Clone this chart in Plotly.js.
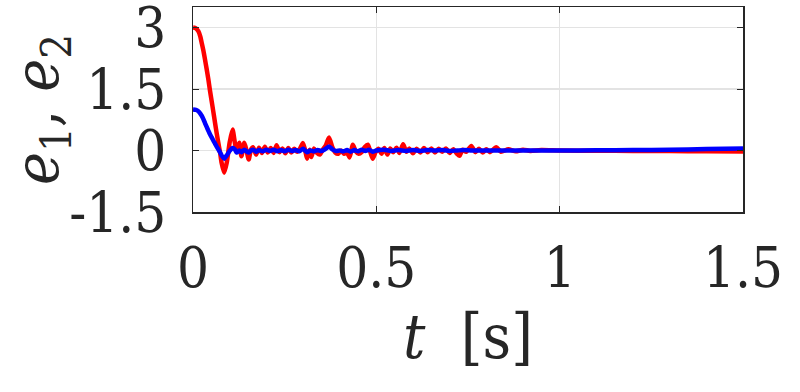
<!DOCTYPE html>
<html>
<head>
<meta charset="utf-8">
<script src="https://cdn.plot.ly/plotly-3.0.1.min.js"></script>
<style>
  html, body { margin: 0; padding: 0; background: #fff; }
  #grafik { width: 800px; height: 392px; }
</style>
</head>
<body>
<div id="grafik"></div>
<script>
// e1 (red)
const tRed = [
  0, 0.008, 0.0145, 0.02, 0.0236, 0.028, 0.0327, 0.037, 0.042, 0.046,
  0.051, 0.055, 0.06, 0.065, 0.069, 0.074, 0.078, 0.085, 0.092, 0.1,
  0.108, 0.114, 0.119, 0.126, 0.132, 0.14, 0.146, 0.152, 0.158, 0.164,
  0.172, 0.18, 0.188, 0.196, 0.204, 0.212, 0.22, 0.228, 0.236, 0.244,
  0.252, 0.26, 0.268, 0.276, 0.284, 0.292, 0.3, 0.306, 0.311, 0.318,
  0.323, 0.33, 0.338, 0.346, 0.354, 0.362, 0.371, 0.38, 0.388, 0.396,
  0.404, 0.412, 0.42, 0.427, 0.436, 0.444, 0.452, 0.46, 0.468, 0.477,
  0.484, 0.49, 0.498, 0.506, 0.514, 0.522, 0.53, 0.538, 0.546, 0.555,
  0.563, 0.573, 0.582, 0.59, 0.6, 0.61, 0.62, 0.63, 0.64, 0.65,
  0.66, 0.67, 0.68, 0.69, 0.7, 0.71, 0.72, 0.727, 0.735, 0.745,
  0.759, 0.77, 0.78, 0.79, 0.8, 0.81, 0.827, 0.84, 0.86, 0.88,
  0.9, 0.92, 0.95, 1.0, 1.1, 1.2, 1.3, 1.4, 1.5
];
const e1 = [
  3.0, 2.98, 2.91, 2.78, 2.63, 2.45, 2.22, 2.0, 1.73, 1.48,
  1.2, 0.97, 0.68, 0.4, 0.19, -0.06, -0.3, -0.54, -0.3, 0.2,
  0.51, 0.2, -0.02, 0.19, -0.14, 0.19, 0.0, -0.22, 0.02, 0.08,
  -0.1, 0.07, -0.06, 0.09, -0.05, 0.06, -0.06, 0.13, -0.04, 0.05,
  -0.07, 0.06, -0.05, 0.04, -0.03, 0.05, 0.18, 0.0, -0.2, 0.02,
  -0.16, 0.05, -0.06, -0.1, 0.02, 0.12, 0.32, 0.08, -0.05, -0.08,
  0.0, -0.08, -0.05, -0.17, 0.14, -0.02, -0.08, -0.04, 0.08, 0.14,
  -0.05, -0.2, -0.04, 0.04, -0.08, 0.06, -0.1, 0.05, -0.04, 0.07,
  -0.06, 0.15, -0.03, 0.05, -0.07, 0.04, -0.05, 0.06, -0.04, 0.05,
  -0.05, 0.04, -0.03, 0.05, -0.06, 0.03, -0.08, -0.13, 0.02, -0.03,
  0.11, -0.04, 0.04, -0.05, 0.03, -0.04, 0.08, -0.03, 0.03, -0.02,
  0.02, -0.01, 0.01, 0.0, -0.005, -0.01, -0.015, -0.02, -0.025
];

// e2 (blue)
const tBlue = [
  0, 0.008, 0.0145, 0.02, 0.0236, 0.028, 0.0327, 0.037, 0.042, 0.046,
  0.051, 0.055, 0.06, 0.065, 0.069, 0.074, 0.078, 0.085, 0.092, 0.1,
  0.108, 0.114, 0.119, 0.126, 0.132, 0.14, 0.146, 0.152, 0.158, 0.164,
  0.172, 0.18, 0.19, 0.2, 0.21, 0.22, 0.23, 0.24, 0.25, 0.26,
  0.27, 0.28, 0.29, 0.3, 0.311, 0.32, 0.33, 0.34, 0.35, 0.36,
  0.371, 0.38, 0.39, 0.4, 0.41, 0.42, 0.43, 0.44, 0.45, 0.46,
  0.47, 0.48, 0.49, 0.5, 0.52, 0.54, 0.56, 0.58, 0.6, 0.62,
  0.64, 0.66, 0.68, 0.7, 0.72, 0.74, 0.76, 0.78, 0.8, 0.85,
  0.9, 1.0, 1.1, 1.2, 1.3, 1.4, 1.5
];
const e2 = [
  1.0, 0.99, 0.96, 0.9, 0.85, 0.77, 0.67, 0.58, 0.48, 0.4,
  0.32, 0.25, 0.17, 0.09, 0.03, -0.05, -0.12, -0.2, -0.12, -0.01,
  0.06, 0.03, -0.05, 0.0, -0.04, 0.02, -0.02, -0.05, 0.0, 0.02,
  -0.03, 0.01, -0.02, 0.02, -0.01, 0.02, -0.02, 0.01, -0.02, 0.02,
  -0.01, 0.01, -0.02, 0.04, -0.04, 0.0, -0.02, 0.01, -0.01, 0.03,
  0.1, 0.03, -0.01, 0.0, -0.02, 0.01, -0.03, 0.01, -0.02, 0.02,
  -0.01, 0.02, -0.03, 0.0, 0.02, -0.01, 0.01, -0.01, 0.01, -0.01,
  0.01, 0.0, 0.01, -0.01, 0.0, 0.01, 0.0, 0.0, 0.0, 0.0,
  0.0, 0.0, 0.005, 0.01, 0.02, 0.035, 0.05
];

const xTicks = [0, 0.5, 1, 1.5];
const xTickText = ['0', '0.5', '1', '1.5'];
const yTicks = [-1.5, 0, 1.5, 3];
const yTickText = ['-1.5', '0', '1.5', '3'];

const axisColor = '#262626';
const gridColor = '#e3e3e3';
// Liberation Serif is not picked up here, DejaVu Serif Condensed is the closest serif
const serifCond = 'DejaVu Serif Condensed, DejaVu Serif, serif';

const data = [
  {
    x: tRed, y: e1, type: 'scatter', mode: 'lines',
    line: { color: '#ff0000', width: 4.5, shape: 'spline', smoothing: 0.6 },
    hoverinfo: 'skip'
  },
  {
    x: tBlue, y: e2, type: 'scatter', mode: 'lines',
    line: { color: '#0000ff', width: 4.5, shape: 'spline', smoothing: 0.6 },
    hoverinfo: 'skip'
  }
];

const layout = {
  width: 800,
  height: 392,
  margin: { l: 193, r: 57, t: 7, b: 180 },
  paper_bgcolor: '#fff',
  plot_bgcolor: '#fff',
  showlegend: false,
  font: { family: serifCond, color: axisColor },
  xaxis: {
    range: [0, 1.5],
    tickvals: xTicks,
    ticktext: xTickText,
    ticks: 'inside',
    ticklen: 6,
    tickcolor: axisColor,
    showline: true,
    linecolor: axisColor,
    linewidth: 1.5,
    mirror: 'ticks',
    showgrid: true,
    gridcolor: gridColor,
    gridwidth: 1.5,
    zeroline: false,
    tickfont: { size: 56, family: serifCond, color: axisColor },
    ticklabelstandoff: 6,
    ticklabeloverflow: 'allow',
    title: {
      text: '<i>t</i>\u00a0 [s]',
      font: { size: 62, family: serifCond, color: axisColor },
      standoff: 8
    }
  },
  yaxis: {
    range: [-1.5, 3.5],
    tickvals: yTicks,
    ticktext: yTickText,
    ticks: 'inside',
    ticklen: 6,
    tickcolor: axisColor,
    showline: true,
    linecolor: axisColor,
    linewidth: 1.5,
    mirror: 'ticks',
    showgrid: true,
    gridcolor: gridColor,
    gridwidth: 1.5,
    zeroline: false,
    tickfont: { size: 56, family: serifCond, color: axisColor },
    ticklabelstandoff: 14,
    ticklabeloverflow: 'allow',
    title: {
      text: '<i>e</i><sub>1</sub>, <i>e</i><sub>2</sub>',
      font: { size: 62, family: serifCond, color: axisColor },
      standoff: 40
    }
  }
};

Plotly.newPlot('grafik', data, layout, { staticPlot: true, displayModeBar: false });
</script>
</body>
</html>
